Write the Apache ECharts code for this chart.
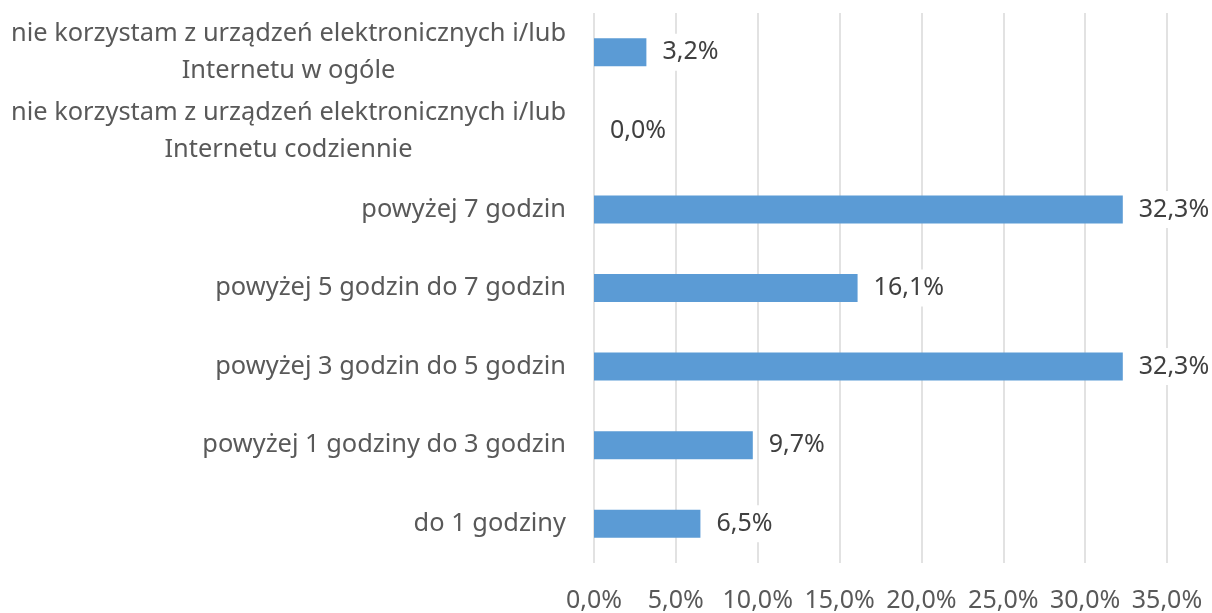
<!DOCTYPE html>
<html>
<head>
<meta charset="utf-8">
<script src="https://cdn.jsdelivr.net/npm/echarts@6/dist/echarts.min.js"></script>
<style>html,body{margin:0;padding:0;background:#fff;}#c{width:1212px;height:613px;}</style>
</head>
<body>
<div id="c"></div>
<script>
const categories = [
  'do 1 godziny',
  'powyżej 1 godziny do 3 godzin',
  'powyżej 3 godzin do 5 godzin',
  'powyżej 5 godzin do 7 godzin',
  'powyżej 7 godzin',
  'nie korzystam z urządzeń elektronicznych i/lub\nInternetu codziennie',
  'nie korzystam z urządzeń elektronicznych i/lub\nInternetu w ogóle'
];
const values = [6.5, 9.7, 32.3, 16.1, 32.3, 0.0, 3.2];
const xTicks = { min: 0, max: 35, interval: 5 };

const FONT = 'Noto Sans';
const FS = 25.4;
const chart = echarts.init(document.getElementById('c'), null, { renderer: 'canvas' });
const fmt = v => v.toFixed(1).replace('.', ',') + '%';
chart.setOption({
  animation: false,
  grid: { left: 594, right: 45, top: 13, bottom: 50, containLabel: false },
  xAxis: {
    type: 'value', min: xTicks.min, max: xTicks.max, interval: xTicks.interval,
    axisLine: { show: false }, axisTick: { show: false },
    splitLine: { lineStyle: { color: '#d9d9d9', width: 1.5 } },
    axisLabel: { formatter: v => fmt(v), color: '#595959', fontSize: 25, fontFamily: FONT, margin: 25 }
  },
  yAxis: {
    type: 'category', data: categories,
    axisLine: { show: false }, axisTick: { show: false },
    axisLabel: {
      color: '#595959', fontSize: FS, fontFamily: FONT, margin: 28, lineHeight: 37,
      formatter: s => s.split('\n').map(l => '{c|' + l + '}').join('\n'),
      rich: { c: { align: 'center', fontSize: FS, fontFamily: FONT, color: '#595959', lineHeight: 37 } }
    }
  },
  series: [{
    type: 'bar', data: values, barWidth: 28,
    itemStyle: { color: '#5b9bd5' },
    label: {
      show: true, position: 'right', distance: 12, formatter: p => fmt(p.value),
      color: '#404040', fontSize: 25, fontFamily: FONT,
      backgroundColor: '#ffffff', padding: [6, 4, 6, 4]
    }
  }]
});
</script>
</body>
</html>
